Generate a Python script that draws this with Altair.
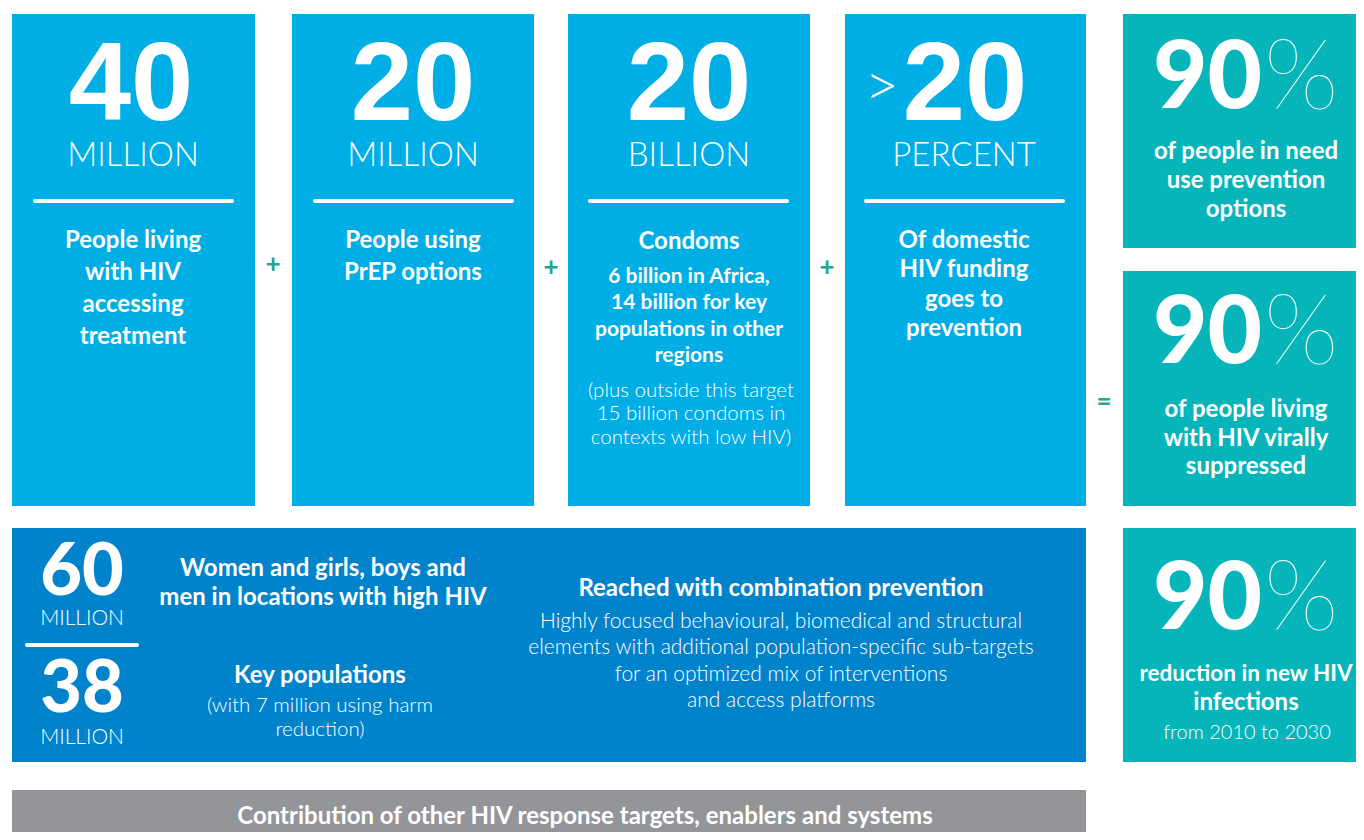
import altair as alt
import pandas as pd

# ---------------- content ----------------
headline_numbers = ["40", "20", "20", "20"]
headline_prefix = ["", "", "", ">"]
headline_units = ["MILLION", "MILLION", "BILLION", "PERCENT"]
box_descriptions = [
    ["People living", "with HIV", "accessing", "treatment"],
    ["People using", "PrEP options"],
    ["Condoms"],
    ["Of domestic", "HIV funding", "goes to", "prevention"],
]
condom_detail = ["6 billion in Africa,", "14 billion for key", "populations in other", "regions"]
condom_note = ["(plus outside this target", "15 billion condoms in", "contexts with low HIV)"]

outcome_values = ["90", "90", "90"]
outcome_pct = ["%", "%", "%"]
outcome_texts = [
    ["of people in need", "use prevention", "options"],
    ["of people living", "with HIV virally", "suppressed"],
    ["reduction in new HIV", "infections"],
]
outcome_note = ["from 2010 to 2030"]

pop_numbers = ["60", "38"]
pop_units = ["MILLION", "MILLION"]
pop_titles = [["Women and girls, boys and", "men in locations with high HIV"], ["Key populations"]]
pop_note = ["(with 7 million using harm", "reduction)"]
combo_title = ["Reached with combination prevention"]
combo_text = [
    "Highly focused behavioural, biomedical and structural",
    "elements with additional population-specific sub-targets",
    "for an optimized mix of interventions",
    "and access platforms",
]
footer_text = ["Contribution of other HIV response targets, enablers and systems"]
operators = ["+", "+", "+", "="]

# ---------------- layout (reference pixel space) ----------------
CYAN, TEAL, BLUE, GREY, OPC = "#00AEE6", "#05B5BA", "#0083CB", "#939598", "#22A68C"
box_x = [(12, 255), (292, 534), (568, 810), (845, 1086)]
num_cx = [131, 413, 689, 965]
unit_cx = [133, 413, 689, 964]
rule_x = [(35, 232), (315, 512), (590, 787), (866, 1063)]
desc_y = [[241, 273, 305, 337], [241, 273], [242], [241, 270, 300, 329]]
out_box_y = [(14, 248), (271, 506), (528, 762)]
out_num_y = [80, 335, 601]
out_text_y = [[152, 181, 210], [410, 439, 467], [674, 703]]
out_text_size = [[24, 24, 24], [24, 24, 24], [22.5, 24]]
op_pos = [(273, 265), (551, 268), (827, 268), (1104, 402)]

rects = [dict(x=a, x2=b, y=14, y2=506, c=CYAN) for a, b in box_x]
rects += [dict(x=1123, x2=1370, y=a, y2=b, c=TEAL) for a, b in out_box_y]
rects += [dict(x=12, x2=1086, y=528, y2=762, c=BLUE),
          dict(x=12, x2=1086, y=790, y2=850, c=GREY)]
rect_df = pd.DataFrame(rects)

rules_df = pd.DataFrame([dict(x=a, x2=b, y=201) for a, b in rule_x] + [dict(x=27, x2=137, y=645)])

X = alt.X("x:Q", scale=alt.Scale(domain=[8, 1356], nice=False, zero=False), axis=None)
Y = alt.Y("y:Q", scale=alt.Scale(domain=[8, 832], nice=False, zero=False, reverse=True), axis=None)


def txt(rows, size, weight=400, font="Lato", color="white", align="center"):
    df = pd.DataFrame(rows, columns=["x", "y", "t"])
    return alt.Chart(df).mark_text(
        font=font, fontSize=size, fontWeight=weight, color=color, align=align, baseline="middle"
    ).encode(x=X, y=Y, text="t:N")


layers = []
layers.append(alt.Chart(rect_df).mark_rect().encode(
    x=X, x2="x2:Q", y=Y, y2="y2:Q", color=alt.Color("c:N", scale=None)))
layers.append(alt.Chart(rules_df).mark_rule(color="white", strokeWidth=4, strokeCap="round").encode(
    x=X, x2="x2:Q", y=Y))

# top cyan boxes
layers.append(txt([(num_cx[i], 86, n) for i, n in enumerate(headline_numbers)], 112, 700, "Liberation Sans"))
layers.append(txt([(882, 88, p) for p in headline_prefix if p], 60, 300, "Lato"))
layers.append(txt([(unit_cx[i], 156, u) for i, u in enumerate(headline_units)], 33, 300))
desc_rows = []
for i, lines in enumerate(box_descriptions):
    for j, line in enumerate(lines):
        desc_rows.append((unit_cx[i], desc_y[i][j], line))
layers.append(txt(desc_rows, 24, 700))
layers.append(txt([(689, y, t) for y, t in zip([277, 303, 330, 356], condom_detail)], 21, 700))
layers.append(txt([(691, y, t) for y, t in zip([391, 414, 438], condom_note)], 20.5, 300))

# operators
layers.append(txt([(x, y, o) for (x, y), o in zip(op_pos, operators)], 26, 700, color=OPC))

# teal outcome boxes
layers.append(txt([(1262, out_num_y[i], v) for i, v in enumerate(outcome_values)], 94, 900, align="right"))
layers.append(txt([(1264, out_num_y[i], p) for i, p in enumerate(outcome_pct)], 98, 200, align="left"))
for i, lines in enumerate(outcome_texts):
    for j, line in enumerate(lines):
        layers.append(txt([(1246, out_text_y[i][j], line)], out_text_size[i][j], 700))
layers.append(txt([(1247, 733, outcome_note[0])], 20, 300))

# bottom blue box
layers.append(txt([(82, y, n) for y, n in zip([573, 690], pop_numbers)], 72, 900))
layers.append(txt([(82, y, u) for y, u in zip([619, 738], pop_units)], 21, 300))
prow = [(323, 569, pop_titles[0][0]), (323, 598, pop_titles[0][1]), (320, 676, pop_titles[1][0])]
layers.append(txt(prow, 24, 700))
layers.append(txt([(320, y, t) for y, t in zip([706, 730], pop_note)], 20.5, 300))
layers.append(txt([(781, 589, combo_title[0])], 24, 700))
layers.append(txt([(781, y, t) for y, t in zip([622, 648, 675, 701], combo_text)], 21, 300))

# footer
layers.append(txt([(585, 817, footer_text[0])], 24, 700))

chart = alt.layer(*layers).properties(
    width=1348, height=824, padding=0, background="white",
    autosize=alt.AutoSizeParams(type="none"),
).configure_view(stroke=None)

chart.save("out.html", embed_options={"renderer": "svg", "actions": False})
